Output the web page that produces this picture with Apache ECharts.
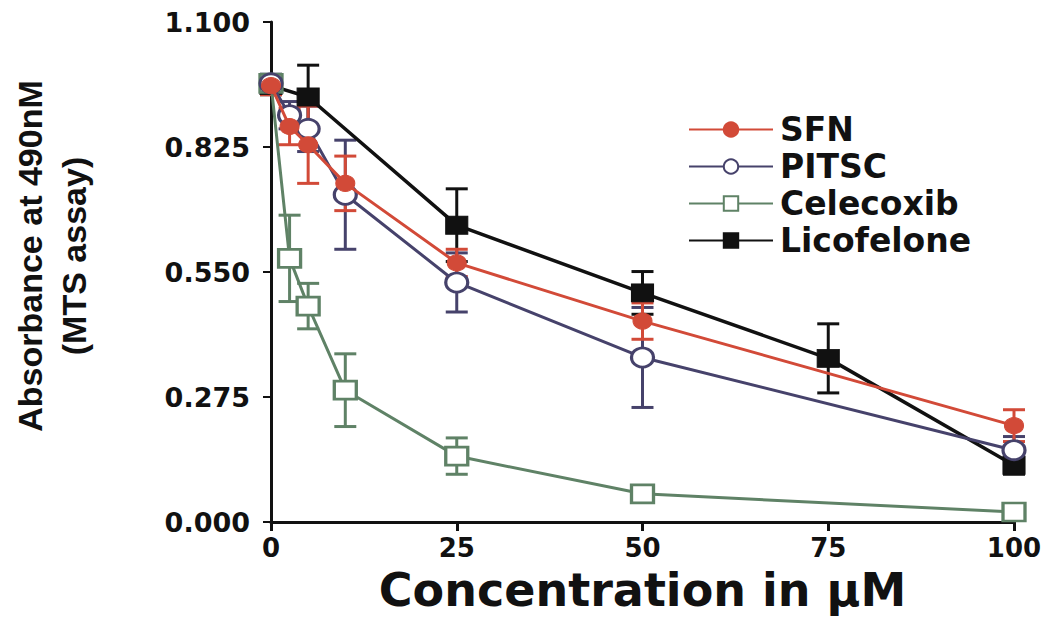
<!DOCTYPE html>
<html>
<head>
<meta charset="utf-8">
<script src="https://cdn.jsdelivr.net/npm/echarts@6/dist/echarts.min.js"></script>
<style>
html,body{margin:0;padding:0;background:#fff;}
#chart{width:1050px;height:636px;}
</style>
</head>
<body>
<div id="chart"></div>
<script>
// ---- data ----
const xTicks = [0, 25, 50, 75, 100];
const yTicks = [0, 0.275, 0.55, 0.825, 1.1];

const concMain = [0, 2.5, 5, 10, 25, 50, 100];
const sfnMean  = [0.960, 0.870, 0.830, 0.745, 0.570, 0.442, 0.212];
const sfnErr   = [0.020, 0.040, 0.085, 0.060, 0.030, 0.040, 0.035];

const pitscMean = [0.965, 0.895, 0.865, 0.720, 0.527, 0.362, 0.158];
const pitscErr  = [0.020, 0.030, 0.050, 0.120, 0.065, 0.110, 0.030];

const celeMean = [0.965, 0.580, 0.475, 0.290, 0.145, 0.062, 0.022];
const celeErr  = [0.020, 0.095, 0.050, 0.080, 0.040, 0.012, 0.010];

const concLico = [0, 5, 25, 50, 75, 100];
const licoMean = [0.960, 0.935, 0.653, 0.504, 0.360, 0.125];
const licoErr  = [0.020, 0.070, 0.080, 0.047, 0.076, 0.020];

const seriesNames = ['SFN', 'PITSC', 'Celecoxib', 'Licofelone'];
const colors = ['#d24a38', '#46426b', '#5f8266', '#111111'];

// ---- build ----
function pts(xs, ys) { return xs.map((x, i) => [x, ys[i]]); }
function errs(xs, ys, es) { return xs.map((x, i) => [x, ys[i] - es[i], ys[i] + es[i]]); }

function errSeries(name, color, data, z) {
  return {
    type: 'custom', name: name + ' err', z: z, silent: true,
    data: data,
    renderItem: function (params, api) {
      const x = api.value(0), lo = api.value(1), hi = api.value(2);
      const pTop = api.coord([x, hi]);
      const pBot = api.coord([x, lo]);
      const half = 11;
      const st = { stroke: color, lineWidth: 3, fill: null };
      return {
        type: 'group',
        children: [
          { type: 'line', shape: { x1: pTop[0], y1: pTop[1], x2: pBot[0], y2: pBot[1] }, style: st },
          { type: 'line', shape: { x1: pTop[0] - half, y1: pTop[1], x2: pTop[0] + half, y2: pTop[1] }, style: st },
          { type: 'line', shape: { x1: pBot[0] - half, y1: pBot[1], x2: pBot[0] + half, y2: pBot[1] }, style: st }
        ]
      };
    }
  };
}

const chart = echarts.init(document.getElementById('chart'), null, { renderer: 'svg' });

const option = {
  animation: false,
  backgroundColor: '#ffffff',
  grid: { left: 268, right: 36, top: 22, bottom: 114, containLabel: false },
  xAxis: {
    type: 'value', min: 0, max: 100, interval: 25,
    name: 'Concentration in \u03bcM',
    nameLocation: 'middle', nameGap: 45,
    nameTextStyle: { fontFamily: 'DejaVu Sans', fontWeight: 'bold', fontSize: 46, color: '#111' },
    axisLine: { show: true, onZero: false, lineStyle: { color: '#111', width: 3 } },
    axisTick: { show: true, length: 9, lineStyle: { color: '#111', width: 3 } },
    axisLabel: { margin: 13, fontFamily: 'DejaVu Sans', fontWeight: 'bold', fontSize: 26, color: '#111',
      formatter: v => String(v) },
    splitLine: { show: false }
  },
  yAxis: {
    type: 'value', min: 0, max: 1.1, interval: 0.275,
    name: 'Absorbance at 490nM\n(MTS assay)',
    nameLocation: 'middle', nameRotate: 90, nameGap: 175,
    nameTextStyle: { fontFamily: 'Liberation Sans', fontWeight: 'bold', fontSize: 34, color: '#111',
      lineHeight: 44, align: 'center', padding: [0, 0, 0, 32] },
    axisLine: { show: true, onZero: false, lineStyle: { color: '#111', width: 3 } },
    axisTick: { show: true, length: 8, lineStyle: { color: '#111', width: 2 } },
    axisLabel: { margin: 21, fontFamily: 'DejaVu Sans', fontWeight: 'bold', fontSize: 27, color: '#111',
      formatter: v => v.toFixed(3) },
    splitLine: { show: false }
  },
  legend: {
    orient: 'vertical', left: 683, top: 108,
    data: seriesNames,
    itemWidth: 84, itemHeight: 18, itemGap: 4,
    textStyle: { fontFamily: 'DejaVu Sans', fontWeight: 'bold', fontSize: 33, color: '#111', lineHeight: 26, padding: [0, 0, 0, 2] }
  },
  series: [
    errSeries('Licofelone', colors[3], errs(concLico, licoMean, licoErr), 1),
    errSeries('Celecoxib', colors[2], errs(concMain, celeMean, celeErr), 1),
    errSeries('PITSC', colors[1], errs(concMain, pitscMean, pitscErr), 1),
    errSeries('SFN', colors[0], errs(concMain, sfnMean, sfnErr), 1),
    {
      name: 'Licofelone', type: 'line', z: 3, data: pts(concLico, licoMean),
      symbol: 'rect', symbolSize: [22, 18],
      lineStyle: { color: colors[3], width: 3.5 },
      itemStyle: { color: colors[3], borderColor: colors[3], borderWidth: 1 }
    },
    {
      name: 'Celecoxib', type: 'line', z: 4, data: pts(concMain, celeMean),
      symbol: 'rect', symbolSize: [22, 18],
      lineStyle: { color: colors[2], width: 3 },
      itemStyle: { color: '#ffffff', borderColor: colors[2], borderWidth: 3 }
    },
    {
      name: 'PITSC', type: 'line', z: 5, data: pts(concMain, pitscMean),
      symbol: 'circle', symbolSize: [22, 19],
      lineStyle: { color: colors[1], width: 3 },
      itemStyle: { color: '#ffffff', borderColor: colors[1], borderWidth: 3 }
    },
    {
      name: 'SFN', type: 'line', z: 6, data: pts(concMain, sfnMean),
      symbol: 'circle', symbolSize: [19, 16],
      lineStyle: { color: colors[0], width: 3 },
      itemStyle: { color: colors[0], borderColor: colors[0], borderWidth: 1 }
    }
  ]
};
chart.setOption(option);
</script>
</body>
</html>
